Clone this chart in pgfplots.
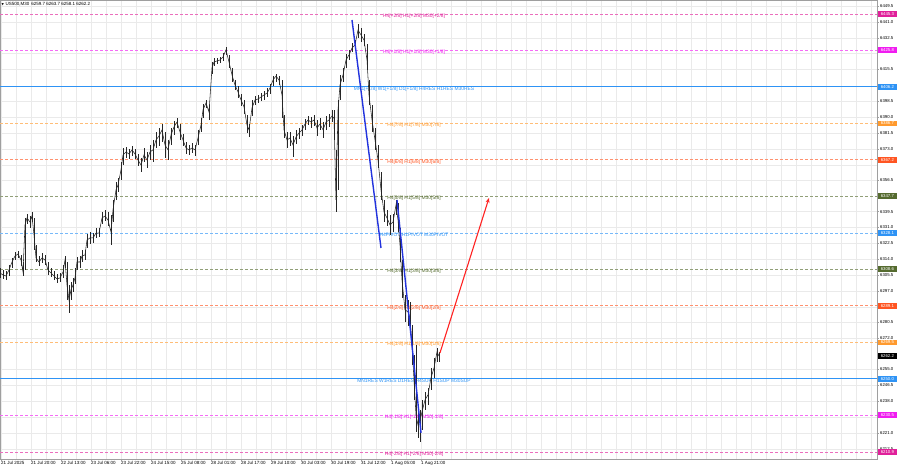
\documentclass[border=0pt]{standalone}
\usepackage{fontspec}
\setmainfont{Liberation Sans}
\newfontfamily\symfont{DejaVu Sans}
\usepackage{pgfplots}
\usepackage{pgfplotstable}
\pgfplotsset{compat=1.18}
\usetikzlibrary{arrows.meta}

\definecolor{lvpink}{HTML}{E0209A}
\definecolor{lvmag}{HTML}{F01CF0}
\definecolor{lvblue}{HTML}{2E93F5}
\definecolor{lvorange}{HTML}{FF9A2E}
\definecolor{lvred}{HTML}{FF5522}
\definecolor{lvolive}{HTML}{556B2F}
\definecolor{gridc}{HTML}{EAEAEA}
\definecolor{trend}{HTML}{2233DD}
\definecolor{arrowred}{HTML}{FF2222}

\newcommand\smallfont{\fontsize{4.5}{5}\selectfont}
\newcommand\lvfont{\fontsize{4.9}{5.5}\selectfont}
\newcommand\boxfont{\fontsize{4.3}{5}\selectfont}

% price, colour, line style, text
\newcommand\level[4]{%
  \addplot[#2!65, line width=0.6pt, #3] coordinates {(0,#1) (877,#1)};
  \node[text=#2, font=\lvfont, inner sep=0pt, yshift=-2.3pt] at (axis cs:414,#1) {#4};
  \node[fill=#2, text=white, font=\boxfont, anchor=west, inner xsep=2.6pt, inner ysep=1.3pt, xshift=1pt] at (axis cs:877,#1) {#1};
}

% M30 bars, sampled: x in chart pixels, close, high, low
\pgfplotstableread{
x c h l
0 6306.6 6309.3 6304.0
3 6305.6 6308.3 6303.4
6 6305.0 6307.7 6302.9
9 6308.3 6310.9 6305.0
12 6312.5 6314.7 6309.3
15 6315.7 6317.9 6313.6
18 6316.8 6318.4 6314.7
21 6313.6 6316.3 6310.4
23 6307.2 6312.5 6305.0
25 6332.3 6336.1 6308.3
27 6336.1 6338.2 6332.9
30 6333.9 6337.1 6330.7
32 6337.1 6339.3 6333.9
34 6327.0 6336.1 6319.0
36 6314.7 6321.6 6312.5
39 6312.5 6315.7 6310.4
42 6314.7 6317.3 6312.0
45 6313.6 6316.3 6310.9
48 6308.3 6312.5 6305.6
51 6306.6 6309.3 6304.5
54 6305.0 6307.7 6302.9
57 6303.4 6306.1 6301.3
60 6304.0 6306.6 6301.8
63 6307.2 6310.9 6304.0
65 6313.6 6315.7 6309.3
67 6300.2 6312.5 6292.2
69 6292.2 6300.2 6285.2
71 6297.6 6301.8 6292.2
73 6300.2 6304.0 6296.5
75 6304.0 6309.3 6300.8
77 6312.5 6315.2 6308.3
80 6312.5 6315.7 6309.3
82 6315.7 6319.0 6312.5
85 6316.3 6319.0 6313.6
87 6324.3 6327.5 6320.0
90 6325.4 6328.6 6322.2
93 6325.4 6328.0 6322.7
96 6328.0 6330.7 6325.4
99 6328.0 6330.7 6325.9
102 6336.1 6339.3 6332.9
105 6337.1 6340.4 6334.5
108 6335.0 6339.3 6331.8
111 6328.6 6337.7 6321.6
113 6340.4 6345.7 6333.9
116 6351.1 6355.3 6345.7
118 6353.7 6357.5 6350.0
121 6361.8 6366.0 6356.4
123 6369.8 6373.5 6364.4
126 6371.4 6374.1 6368.2
129 6370.3 6373.0 6367.6
132 6372.5 6374.6 6369.2
135 6370.3 6373.0 6367.6
138 6367.1 6370.3 6363.9
141 6364.4 6368.2 6360.7
144 6369.8 6373.5 6366.0
147 6367.1 6371.4 6362.8
150 6371.4 6375.1 6367.1
153 6372.5 6377.8 6366.0
156 6377.8 6382.1 6373.5
159 6379.9 6384.2 6374.6
162 6383.2 6386.4 6376.7
165 6375.1 6382.1 6368.2
168 6372.5 6377.8 6367.1
171 6380.5 6384.2 6375.1
174 6384.8 6388.0 6380.5
177 6387.4 6389.6 6384.2
180 6382.1 6386.4 6377.8
183 6377.8 6381.0 6374.6
186 6373.5 6376.7 6370.3
189 6372.5 6375.1 6369.8
192 6373.5 6376.2 6370.8
195 6372.5 6375.1 6369.2
198 6378.9 6383.2 6375.1
201 6385.8 6389.6 6382.1
203 6393.9 6397.1 6389.6
206 6397.6 6399.2 6394.9
209 6392.8 6396.5 6388.5
212 6416.3 6419.5 6413.1
214 6419.5 6421.7 6417.4
217 6420.1 6421.7 6418.5
220 6420.6 6422.2 6419.0
223 6422.2 6424.3 6420.1
226 6426.0 6427.6 6423.3
229 6419.5 6423.3 6416.3
232 6412.6 6416.3 6408.8
235 6407.2 6409.9 6404.6
238 6403.5 6406.7 6400.3
241 6399.2 6402.4 6396.0
244 6395.5 6399.2 6391.7
247 6385.8 6391.2 6381.5
249 6383.2 6386.4 6379.4
252 6394.9 6399.2 6390.6
255 6399.2 6401.3 6396.5
258 6399.7 6401.9 6397.6
261 6400.8 6402.9 6398.7
264 6401.9 6404.0 6399.2
267 6402.9 6405.6 6400.8
270 6405.6 6407.8 6402.4
273 6409.9 6412.0 6406.7
276 6412.0 6413.1 6408.8
279 6409.9 6412.0 6407.2
282 6401.9 6409.9 6389.6
284 6383.2 6391.2 6378.9
287 6377.8 6382.1 6373.5
290 6378.9 6382.1 6374.6
293 6375.1 6379.9 6368.7
296 6379.4 6383.2 6375.7
299 6381.5 6384.2 6378.3
302 6383.2 6385.8 6379.9
305 6386.4 6389.0 6383.2
308 6388.5 6390.6 6385.8
311 6387.4 6390.1 6384.2
314 6388.5 6391.2 6385.3
317 6384.2 6388.5 6379.9
320 6386.4 6389.6 6383.2
323 6383.2 6387.4 6378.9
326 6387.4 6390.6 6383.2
329 6388.5 6391.7 6384.8
332 6390.6 6393.9 6387.4
334 6389.6 6393.9 6377.8
336 6345.7 6372.5 6339.3
338 6393.9 6399.2 6351.1
340 6407.2 6412.6 6399.2
343 6412.6 6416.3 6408.8
346 6420.6 6423.8 6416.3
349 6423.3 6426.0 6420.6
352 6427.0 6429.7 6424.9
355 6428.6 6431.3 6426.0
358 6436.6 6439.9 6432.4
361 6434.0 6437.7 6430.2
364 6431.3 6434.5 6428.1
367 6420.6 6429.2 6415.3
369 6401.9 6409.9 6396.5
372 6388.5 6396.5 6382.1
375 6377.8 6384.2 6372.5
378 6367.1 6375.1 6362.8
381 6351.1 6360.7 6345.7
384 6339.3 6345.7 6333.9
387 6336.1 6340.4 6331.8
390 6332.3 6337.7 6327.0
393 6333.9 6338.2 6328.6
396 6343.0 6345.7 6337.7
398 6335.0 6344.1 6328.6
400 6321.6 6330.7 6312.5
402 6302.9 6313.6 6293.3
405 6286.9 6294.9 6280.4
408 6285.8 6292.2 6278.3
410 6282.6 6291.1 6276.2
412 6268.1 6278.8 6257.4
414 6249.4 6262.8 6238.7
416 6230.7 6268.1 6221.6
418 6225.3 6236.0 6218.4
420 6228.0 6233.4 6216.2
422 6232.3 6238.7 6222.7
425 6238.7 6243.0 6233.4
428 6241.4 6245.1 6236.0
431 6250.5 6255.8 6244.1
434 6255.8 6261.2 6250.5
437 6264.4 6266.5 6259.0
439 6262.2 6264.4 6259.0
}\bars

\begin{document}
\begin{tikzpicture}
\begin{axis}[
    name=ax,
    width=877pt, height=459pt, scale only axis,
    xmin=0, xmax=877, ymin=6207.1, ymax=6452.7,
    clip=false,
    axis line style={gray!75, line width=0.5pt},
    xtick pos=bottom, ytick pos=right,
    yticklabel pos=right,
    tick align=outside,
    major tick length=2pt, minor tick length=0pt,
    tick style={gray!75, line width=0.4pt},
    grid=both,
    grid style={gridc, line width=0.4pt},
    minor grid style={gridc, line width=0.4pt},
    ytick={6449.5,6441.0,6432.5,6415.5,6398.5,6390.0,6381.5,6373.0,6356.5,6339.5,
           6331.0,6322.5,6314.0,6305.5,6297.0,6280.5,6272.0,6255.0,6246.5,6238.0,
           6221.0,6212.5},
    minor ytick={6424.0,6364.5,6288.5,6229.5},
    yticklabel style={font=\boxfont, anchor=west, inner sep=1pt,
        /pgf/number format/.cd, fixed, fixed zerofill, precision=1, 1000 sep={},
        assume math mode=true},
    xtick={1,31,61,91,121,151,181,211,241,271,301,331,361,391,421},
    xticklabels={21 Jul 2025,21 Jul 20:00,22 Jul 13:00,23 Jul 06:00,23 Jul 22:00,
                 24 Jul 15:00,25 Jul 08:00,28 Jul 01:00,28 Jul 17:00,29 Jul 10:00,
                 30 Jul 03:00,30 Jul 19:00,31 Jul 12:00,1 Aug 05:00,1 Aug 21:00},
    minor xtick={16,46,...,436,451,466,...,871},
    xticklabel style={font=\smallfont, anchor=north west, inner sep=0pt, yshift=-0.5pt},
]
\level{6445.3}{lvpink}{dash pattern=on 3pt off 2pt}{H4[+2/8] H1[+2/8] M30[+2/8]}
\level{6425.8}{lvmag}{dash pattern=on 3pt off 2pt}{H4[+1/8] H1[+1/8] M30[+1/8]}
\level{6406.2}{lvblue}{solid, lvblue, line width=0.8pt}{MN1[+1/8] W1[+1/8] D1[+1/8] H4RES H1RES M30RES}
\level{6386.7}{lvorange}{dash pattern=on 3pt off 2pt}{H4[7/8] H1[7/8] M30[7/8]}
\level{6367.2}{lvred}{dash pattern=on 3pt off 2pt}{H4[6/8] H1[6/8] M30[6/8]}
\level{6347.7}{lvolive}{dash pattern=on 3pt off 2pt}{H4[5/8] H1[5/8] M30[5/8]}
\level{6328.1}{lvblue}{dash pattern=on 3pt off 2pt}{H4PIVOT H1PIVOT M30PIVOT}
\level{6308.6}{lvolive}{dash pattern=on 3pt off 2pt}{H4[3/8] H1[3/8] M30[3/8]}
\level{6289.1}{lvred}{dash pattern=on 3pt off 2pt}{H4[2/8] H1[2/8] M30[2/8]}
\level{6269.5}{lvorange}{dash pattern=on 3pt off 2pt}{H4[1/8] H1[1/8] M30[1/8]}
\level{6250.0}{lvblue}{solid, lvblue, line width=0.8pt}{MN1RES W1RES D1RES H4SUP H1SUP M30SUP}
\level{6230.5}{lvmag}{dash pattern=on 3pt off 2pt}{H4[-1/8] H1[-1/8] M30[-1/8]}
\level{6210.9}{lvpink}{dash pattern=on 3pt off 2pt}{H4[-2/8] H1[-2/8] M30[-2/8]}

% price bars
\addplot[black!85, line width=0.55pt, mark=none,
    error bars/.cd, y dir=both, y explicit, error mark=none,
    error bar style={line width=0.55pt, black!85}]
    table[x=x, y=c, y error plus expr=\thisrow{h}-\thisrow{c},
          y error minus expr=\thisrow{c}-\thisrow{l}] {\bars};

% drawn trend lines and projection arrow
\addplot[trend, line width=1.4pt] coordinates {(352,6442.0) (381,6320.0)};
\addplot[trend, line width=1.4pt] coordinates {(397,6345.7) (421,6221.1)};
\addplot[arrowred, line width=1.1pt, -{Stealth[length=5pt,width=4pt]}]
    coordinates {(440,6263.9) (489,6346.8)};

% current price box
\node[fill=black, text=white, font=\boxfont, anchor=west, inner xsep=2.6pt,
      inner ysep=1.3pt, xshift=1pt] at (axis cs:877,6262.2) {6262.2};

% title
\node[anchor=west, font=\smallfont, inner sep=0pt] at (rel axis cs:0,1)
    [xshift=1.5pt, yshift=-4.5pt] {{\symfont\fontsize{3}{4}\selectfont ▼}\hspace{1.5pt}US500,M30\hspace{2pt}6259.7 6263.7 6258.1 6262.2};
\end{axis}
\pgfresetboundingbox
\path[use as bounding box] (ax.south west) ++(0pt,-7pt) rectangle ++(900pt,466pt);
\end{tikzpicture}
\end{document}
